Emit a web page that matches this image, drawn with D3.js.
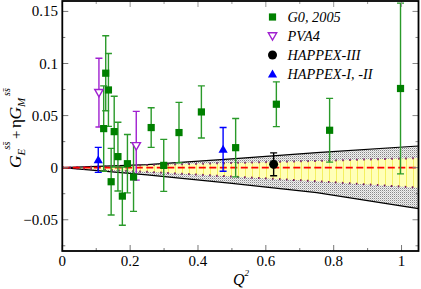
<!DOCTYPE html>
<html><head><meta charset="utf-8">
<script src="https://cdn.jsdelivr.net/npm/d3@7"></script>
<style>body{margin:0;background:#fff}svg{display:block}text{font-family:"Liberation Serif","DejaVu Serif",serif}</style>
</head><body><svg id="c" width="421" height="289"></svg>
<script>
// ---- data ----
const g0Q2  = [0.122,0.128,0.136,0.144,0.153,0.164,0.177,0.192,0.210,0.262,0.299,0.344,0.410,0.511,0.631,0.788,0.997];
const g0Val = [0.0375,0.0907,0.0746,-0.0135,0.0346,0.0106,-0.0273,0.0038,-0.009,0.0385,0.0022,0.0337,0.0535,0.0192,0.0609,0.0359,0.076];
const g0Err = [0.041,0.036,0.035,0.032,0.034,0.033,0.028,0.028,0.033,0.019,0.025,0.029,0.025,0.028,0.0215,0.0306,0.082];
const pvaQ2 = [0.108,0.218];
const pvaVal = [0.072,0.021];
const pvaErr = [0.033,0.033];
const h3Q2 = [0.623];
const h3Val = [0.0032];
const h3Err = [0.011];
const h12Q2 = [0.106,0.474];
const h12Val = [0.0075,0.0175];
const h12Err = [0.012,0.021];
const bandQ2 = [0,0.25,0.5,0.75,1.05];
const outerUp = [0,0.003,0.0085,0.0145,0.0208];
const outerLo = [0,-0.007,-0.015,-0.024,-0.0394];
const innerUp = [0,0.0025,0.0045,0.0065,0.0092];
const innerLo = [0,-0.004,-0.0085,-0.013,-0.0192];
const xTicks = [0,0.2,0.4,0.6,0.8,1];
const yTicks = [-0.05,0,0.05,0.1,0.15];
const legendLabels = ["G0, 2005","PVA4","HAPPEX-III","HAPPEX-I, -II"];

// ---- layout ----
const L=62.3,R=418.5,T=1,B=251;
const x=d3.scaleLinear().domain([0,1.05]).range([L,R]);
const y=d3.scaleLinear().domain([-0.08,0.16]).range([B,T]);
const svg=d3.select("#c");
const defs=svg.append("defs");
const pg=defs.append("pattern").attr("id","stip").attr("width",2).attr("height",2).attr("patternUnits","userSpaceOnUse");
pg.append("rect").attr("width",2).attr("height",2).attr("fill","#f0f0f0");
pg.append("rect").attr("width",1).attr("height",1).attr("fill","#888");
pg.append("rect").attr("x",1).attr("y",1).attr("width",1).attr("height",1).attr("fill","#c8c8c8");
const py=defs.append("pattern").attr("id","yel").attr("width",7).attr("height",4).attr("patternUnits","userSpaceOnUse");
py.append("rect").attr("width",7).attr("height",4).attr("fill","#ffffb8");
py.append("rect").attr("width",1).attr("height",4).attr("fill","#f4f060");

defs.append("clipPath").attr("id","clip").append("rect").attr("x",L).attr("y",T).attr("width",R-L).attr("height",B-T);
const plot=svg.append("g").attr("clip-path","url(#clip)");
const band=bandQ2.map((q,i)=>({q,ou:outerUp[i],ol:outerLo[i],iu:innerUp[i],il:innerLo[i]}));
plot.append("path").datum(band).attr("fill","url(#stip)")
 .attr("d",d3.area().x(d=>x(d.q)).y0(d=>y(d.ol)).y1(d=>y(d.ou)));
plot.append("path").datum(band).attr("fill","url(#yel)")
 .attr("d",d3.area().x(d=>x(d.q)).y0(d=>y(d.il)).y1(d=>y(d.iu)));
["ou","ol"].forEach(k=>plot.append("path").datum(band).attr("fill","none").attr("stroke","#000").attr("stroke-width",1.2)
 .attr("d",d3.line().x(d=>x(d.q)).y(d=>y(d[k]))));
["iu","il"].forEach(k=>plot.append("path").datum(band).attr("fill","none").attr("stroke","#7a2060").attr("stroke-width",2)
 .attr("stroke-dasharray","1.6,5.4").attr("d",d3.line().x(d=>x(d.q)).y(d=>y(d[k]))));
plot.append("line").attr("x1",x(0)).attr("x2",x(1.05)).attr("y1",y(0)).attr("y2",y(0))
 .attr("stroke","#ff0000").attr("stroke-width",1.6).attr("stroke-dasharray","7,3.5");

// ---- error bars & markers ----
function errbars(qs,vs,es,col,w){
  qs.forEach((q,i)=>{
    const g=plot.append("g").attr("stroke",col).attr("stroke-width",w);
    const cx=x(q),y1=y(vs[i]+es[i]),y2=y(vs[i]-es[i]);
    g.append("line").attr("x1",cx).attr("x2",cx).attr("y1",y1).attr("y2",y2);
    g.append("line").attr("x1",cx-3.5).attr("x2",cx+3.5).attr("y1",y1).attr("y2",y1);
    g.append("line").attr("x1",cx-3.5).attr("x2",cx+3.5).attr("y1",y2).attr("y2",y2);
  });
}
errbars(g0Q2,g0Val,g0Err,"#2a9a2a",1.4);
errbars(pvaQ2,pvaVal,pvaErr,"#a020d0",1.4);
errbars(h3Q2,h3Val,h3Err,"#000",1.4);
errbars(h12Q2,h12Val,h12Err,"#0000ff",1.4);
function sq(g,cx,cy){g.append("rect").attr("x",cx-3.6).attr("y",cy-3.6).attr("width",7.2).attr("height",7.2).attr("fill","#008000");}
function dn(g,cx,cy){g.append("path").attr("d","M-4.2,-3.2L4.2,-3.2L0,4.2Z").attr("transform",`translate(${cx},${cy})`).attr("fill","#fff").attr("stroke","#a020d0").attr("stroke-width",1.4);}
function ci(g,cx,cy){g.append("circle").attr("cx",cx).attr("cy",cy).attr("r",4.5).attr("fill","#000");}
function up(g,cx,cy){g.append("path").attr("d","M-4.6,3.4L4.6,3.4L0,-4.6Z").attr("transform",`translate(${cx},${cy})`).attr("fill","#0000ff");}
g0Q2.forEach((q,i)=>sq(plot,x(q),y(g0Val[i])));
pvaQ2.forEach((q,i)=>dn(plot,x(q),y(pvaVal[i])));
h3Q2.forEach((q,i)=>ci(plot,x(q),y(h3Val[i])));
h12Q2.forEach((q,i)=>up(plot,x(q),y(h12Val[i])));

// ---- legend ----
const lg=svg.append("g");
const mk=[sq,dn,ci,up];
legendLabels.forEach((t,i)=>{
  const yy=17+i*19;
  mk[i](lg,272.5,yy);
  lg.append("text").attr("x",287.5).attr("y",yy+4.5).attr("font-size",14.3).attr("font-style","italic").text(t);
});

// ---- axes ----
const ax=svg.append("g");
function tickset(vals,len){
  vals.forEach(v=>{
    ax.append("line").attr("x1",x(v)).attr("x2",x(v)).attr("y1",B).attr("y2",B-len).attr("stroke","#777");
    ax.append("line").attr("x1",x(v)).attr("x2",x(v)).attr("y1",T).attr("y2",T+len).attr("stroke","#999");
  });
}
const xMaj=x.ticks(5), xMin=d3.range(0.1,1.05,0.2);
tickset(xMaj,6); tickset(xMin,3);
function ytickset(vals,len){
  vals.forEach(v=>{
    ax.append("line").attr("y1",y(v)).attr("y2",y(v)).attr("x1",L).attr("x2",L+len).attr("stroke","#777");
    ax.append("line").attr("y1",y(v)).attr("y2",y(v)).attr("x1",R).attr("x2",R-len).attr("stroke","#888");
  });
}
ytickset(yTicks,6); ytickset([-0.075,-0.025,0.025,0.075,0.125],3);
svg.append("rect").attr("x",L).attr("y",T).attr("width",R-L).attr("height",B-T).attr("fill","none").attr("stroke","#000").attr("stroke-width",1.8);
xTicks.forEach(v=>svg.append("text").attr("x",x(v)).attr("y",266).attr("text-anchor","middle").attr("font-size",15).text(d3.format("")(v)));
yTicks.forEach(v=>svg.append("text").attr("x",58).attr("y",y(v)+5).attr("text-anchor","end").attr("font-size",15).text(d3.format("")(v)));

// axis titles
const xt=svg.append("text").attr("x",233).attr("y",285).attr("font-size",16).attr("font-style","italic");
xt.append("tspan").text("Q");
xt.append("tspan").attr("font-size",9).attr("dy",-9).text("2");
const yg=svg.append("g").attr("transform","translate(21,168) rotate(-90)");
const ypieces=[
  {t:"G",x:0,y:0,s:17.5},
  {t:"E",x:12.5,y:4,s:11},
  {t:"ss\u0304",x:18.5,y:-11,s:10},
  {t:"+",x:29,y:0,s:15,n:true},
  {t:"\u03b7",x:40,y:0,s:17,n:true},
  {t:"G",x:48.5,y:0,s:17.5},
  {t:"M",x:61,y:4,s:11},
  {t:"ss\u0304",x:72,y:-11,s:10}
];
ypieces.forEach(p=>yg.append("text").attr("x",p.x).attr("y",p.y).attr("font-size",p.s)
  .attr("font-style",p.n?"normal":"italic").text(p.t));
</script></body></html>
